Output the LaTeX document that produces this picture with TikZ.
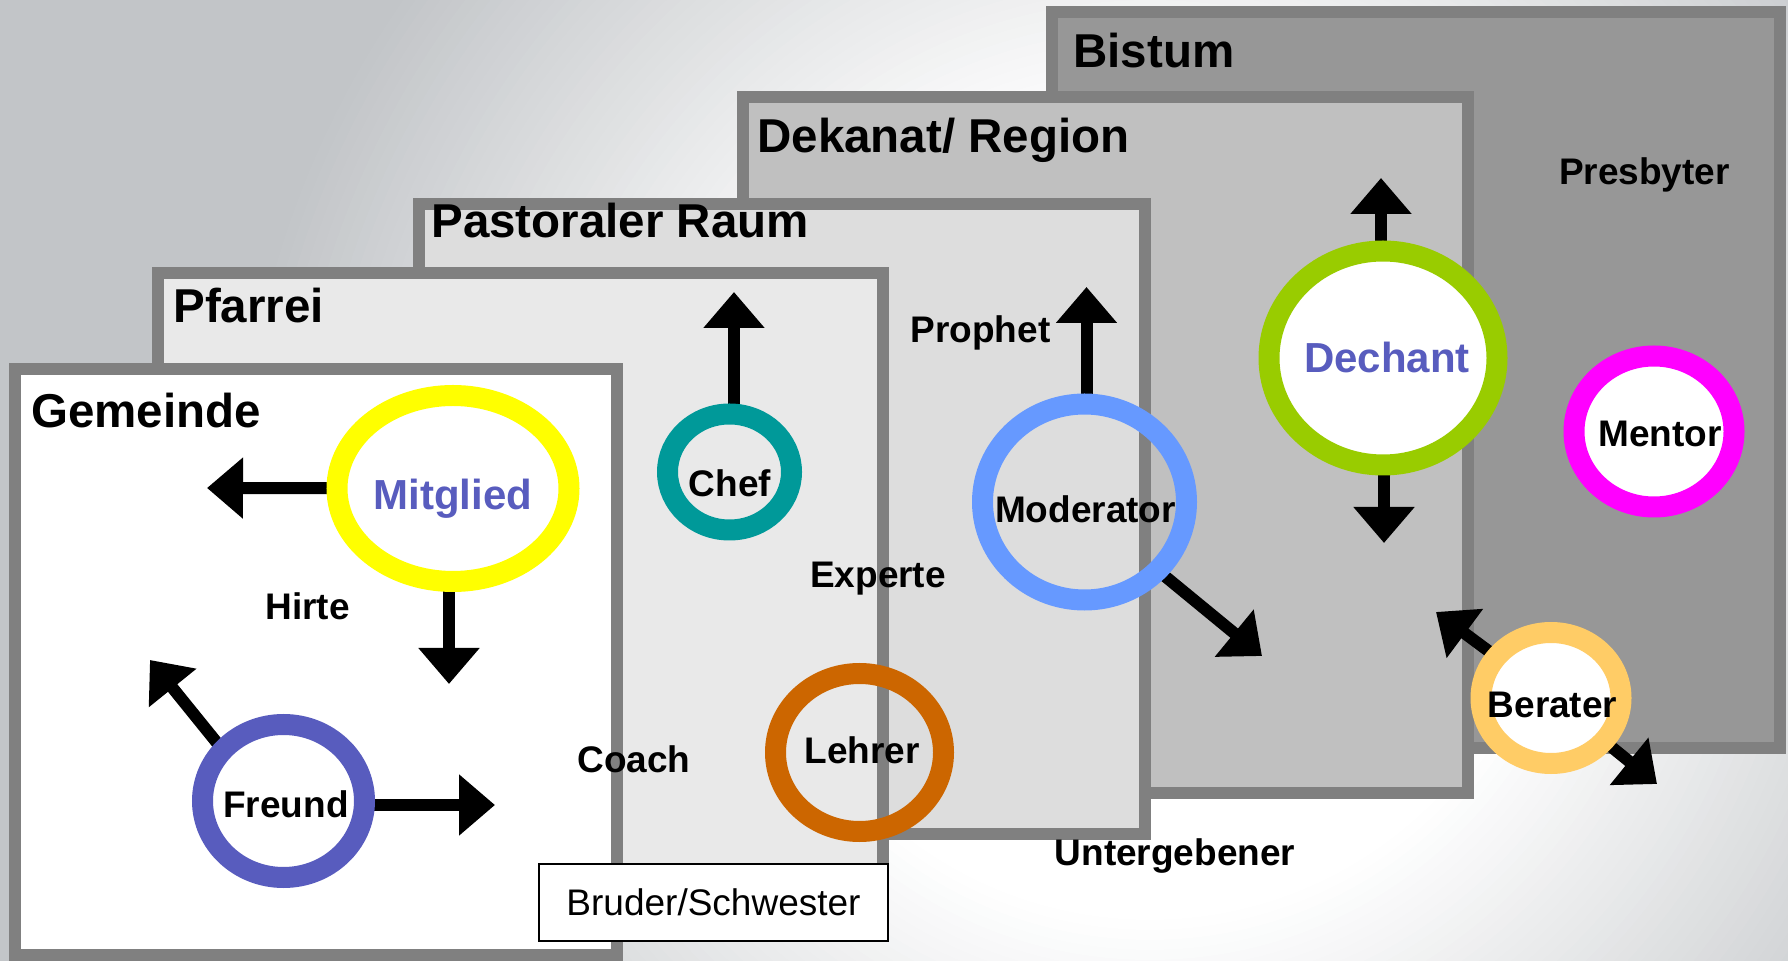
\documentclass[tikz,border=0pt]{standalone}
\usepackage{fontspec}
\setmainfont{Liberation Sans}
\usetikzlibrary{shapes.geometric, arrows.meta}
\pgfdeclarelayer{bg}
\pgfdeclarelayer{mid}
\pgfsetlayers{bg,mid,main}
\definecolor{bgc}{HTML}{C2C5C8}
\definecolor{bord}{HTML}{808080}
\definecolor{cBistum}{HTML}{979797}
\definecolor{cDekanat}{HTML}{C0C0C0}
\definecolor{cPast}{HTML}{DDDDDD}
\definecolor{cPfarr}{HTML}{E9E9E9}
\definecolor{cBlue}{HTML}{585CBE}
\definecolor{cTeal}{HTML}{009999}
\definecolor{cOrange}{HTML}{CC6600}
\definecolor{cSky}{HTML}{6699FF}
\definecolor{cGreen}{HTML}{99CC00}
\definecolor{cMag}{HTML}{FF00FF}
\definecolor{cPeach}{HTML}{FFCC66}
\definecolor{cYellow}{HTML}{FFFF00}
\begin{document}
\begin{tikzpicture}[x=0.5pt, y=-0.5pt,
  level/.style={draw=bord, line width=6pt},
  ttl/.style={anchor=base west, inner sep=0pt, font=\fontsize{23.75pt}{28pt}\selectfont\bfseries},
  lbl/.style={anchor=base, inner sep=0pt, font=\fontsize{18.5pt}{22pt}\selectfont\bfseries},
  blbl/.style={anchor=base, inner sep=0pt, text=cBlue, font=\fontsize{21pt}{25pt}\selectfont\bfseries},
  ring/.style={ellipse, draw=#1, line width=10.5pt, inner sep=0pt, outer sep=0pt},
  arr/.style={line width=6pt, -{Triangle[length=18pt,width=29.5pt]}},
]
\useasboundingbox (0,0) rectangle (1788,961);
\begin{pgfonlayer}{bg}
\begin{scope}
\clip (0,0) rectangle (1788,961);
\fill[bgc] (0,0) rectangle (1788,961);
\foreach \i in {0,...,60} {
  \pgfmathsetmacro\rr{(1000-10*\i)*0.5}
  \pgfmathsetmacro\pp{max(0,min(100,(1000-10*\i-400)/5.2))}
  \fill[bgc!\pp!white] (1150,520) circle (\rr pt);
}
\end{scope}
\draw[level, fill=cBistum] (1052,12) rectangle (1780,748);
\draw[level, fill=cDekanat] (743,97) rectangle (1468,793);
\draw[level, fill=cPast] (419,204) rectangle (1145,834);
\draw[level, fill=cPfarr] (158,273) rectangle (883,884);
\draw[level, fill=white] (15,369) rectangle (617,955);
\end{pgfonlayer}

% titles
\node[ttl] (tBistum) at (1073,68) {Bistum};
\node[ttl] (tDekanat) at (757,153) {Dekanat/ Region};
\node[ttl] (tPast) at (431,238) {Pastoraler Raum};
\node[ttl] (tPfarr) at (173,323) {Pfarrei};
\node[ttl] (tGem) at (31,428) {Gemeinde};

% rings
\node[ring=cYellow, minimum width=116pt, minimum height=93pt] (mitR) at (453,488.5) {};
\node[ring=cTeal, minimum width=62pt, minimum height=58pt] (chefR) at (729.5,472) {};
\node[ring=cBlue, minimum width=81pt, minimum height=76.5pt] (freR) at (283.5,801) {};
\node[ring=cOrange, minimum width=84pt, minimum height=79pt] (lehR) at (859.5,752.5) {};
\node[ring=cSky, minimum width=102pt, minimum height=98pt] (modR) at (1084.5,502) {};
\node[ring=cGreen, fill=white, minimum width=114pt, minimum height=107pt] (decR) at (1383,358) {};
\node[ring=cMag, fill=white, minimum width=80pt, minimum height=75.5pt] (menR) at (1654,431.5) {};
\node[ring=cPeach, fill=white, minimum width=70pt, minimum height=65.5pt] (berR) at (1551,698) {};

% arrow tips
\coordinate (mitLtip) at (207,488);
\coordinate (mitDtip) at (449,684);
\coordinate (chefTip) at (734,292);
\coordinate (freRtip) at (495,805);
\coordinate (freUtip) at (150,660);
\coordinate (modUtip) at (1086.5,287);
\coordinate (modDtip) at (1262,656);
\coordinate (decUtip) at (1381,178);
\coordinate (decDtip) at (1384,543);
\coordinate (berUtip) at (1436,612);
\coordinate (berDtip) at (1657,784);

\begin{pgfonlayer}{mid}
\draw[arr] (mitR) -- (mitLtip);
\draw[arr] (mitDtip |- mitR.south) -- (mitDtip);
\draw[arr] (chefTip |- chefR.north) -- (chefTip);
\draw[arr] (freR.east |- freRtip) -- (freRtip);
\draw[arr] (freR.140) -- (freUtip);
\draw[arr] (modUtip |- modR.north) -- (modUtip);
\draw[arr] (modR.-43) -- (modDtip);
\draw[arr] (decUtip |- decR.north) -- (decUtip);
\draw[arr] (decDtip |- decR.south) -- (decDtip);
\draw[arr] (berR.143) -- (berUtip);
\draw[arr] (berR.-39) -- (berDtip);
\end{pgfonlayer}

% ring texts
\node[blbl] (tMit) at (453,510) {Mitglied};
\node[lbl] (tChef) at (730,497) {Chef};
\node[lbl] (tFre) at (286,817) {Freund};
\node[lbl] (tLeh) at (862,763) {Lehrer};
\node[lbl] (tMod) at (1085.5,523) {Moderator};
\node[blbl] (tDech) at (1387,373) {Dechant};
\node[lbl] (tMent) at (1660,447) {Mentor};
\node[lbl] (tBer) at (1552.5,718) {Berater};

% free labels
\node[lbl] (lPresb) at (1644.5,185) {Presbyter};
\node[lbl] (lProph) at (980.5,343) {Prophet};
\node[lbl] (lHirte) at (307.5,620) {Hirte};
\node[lbl] (lExp) at (878,588) {Experte};
\node[lbl] (lCoach) at (634,772) {Coach};
\node[lbl] (lUnter) at (1175,865) {Untergebener};

\node[draw=black, line width=1pt, fill=white, minimum width=174.5pt, minimum height=38.5pt, inner sep=0pt, font=\fontsize{18.5pt}{22pt}\selectfont] (bruder) at (713.5,902.5) {Bruder/Schwester};
\end{tikzpicture}
\end{document}
